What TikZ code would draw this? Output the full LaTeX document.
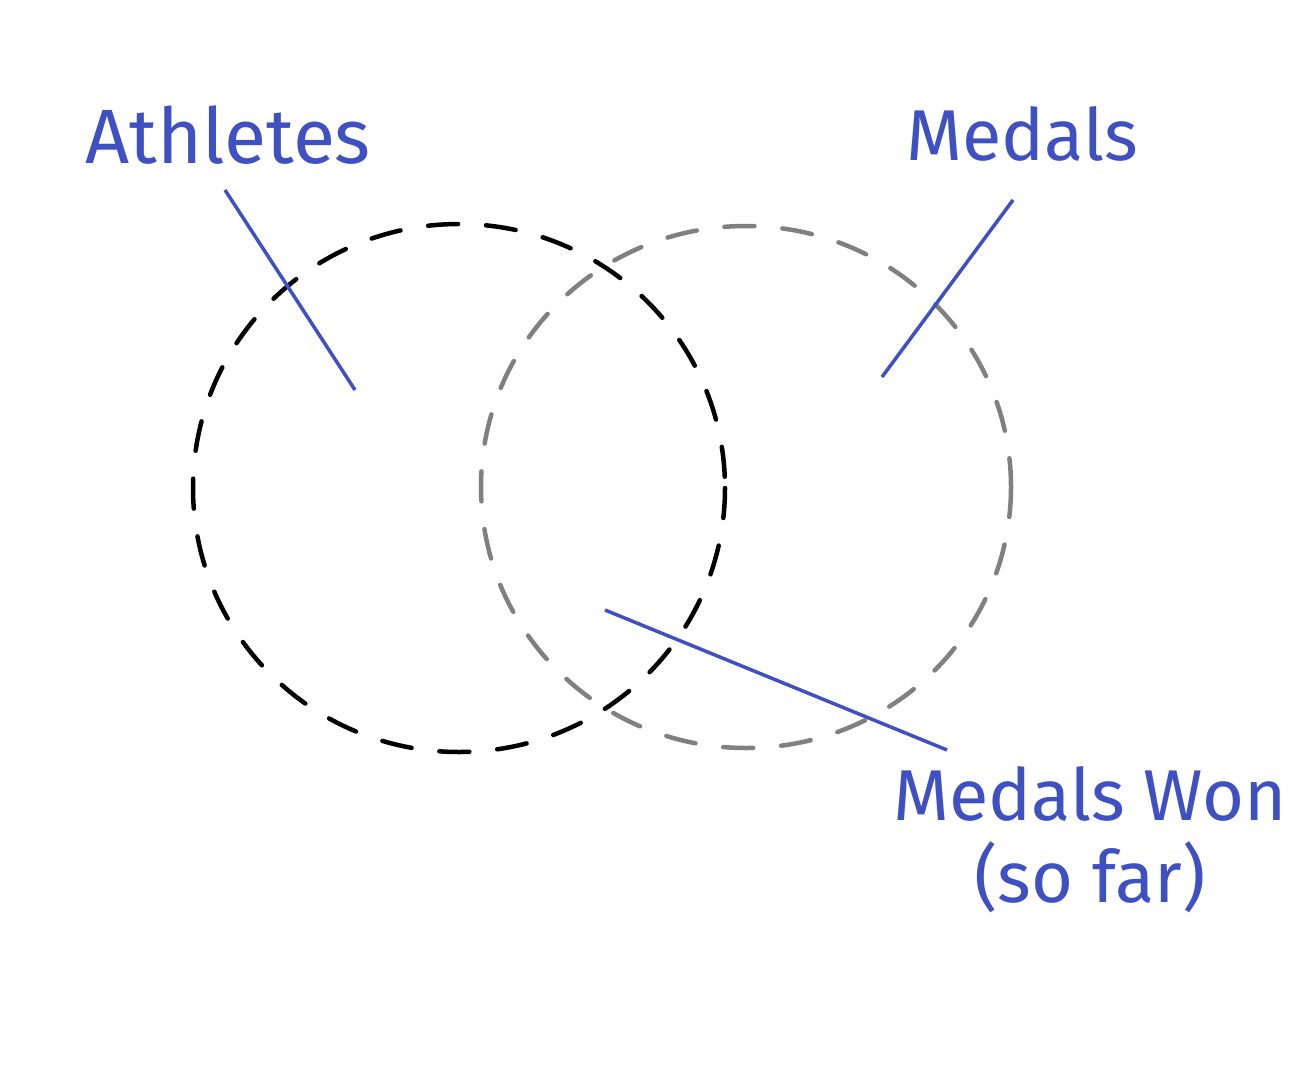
\documentclass[tikz,border=0pt]{standalone}
\usepackage{fontspec}
\setmainfont{Fira Sans}
\definecolor{inkblue}{HTML}{3F51C2}
\definecolor{ringgray}{HTML}{808080}
\begin{document}
\begin{tikzpicture}[x=1pt,y=-1pt,
  ring/.style={line width=4.5pt,dash pattern=on 30pt off 28pt,line cap=round},
  leader/.style={inkblue,line width=3.5pt},
  lbl/.style={text=inkblue,font=\fontsize{72}{80}\selectfont,inner sep=0pt,anchor=base}]
\useasboundingbox (0,0) rectangle (1304,1076);
\fill[white] (0,0) rectangle (1304,1076);
% circles
\draw[ring,black] (459,488) ellipse [x radius=266,y radius=264];
\draw[ring,ringgray] (746,487) ellipse [x radius=265,y radius=261];
% labels
\node[lbl,font=\fontsize{77}{80}\selectfont] (ath) at (228,163) {Athletes};
\node[lbl] (med) at (1022,160) {Medals};
\node[lbl] (won) at (1090,820) {Medals Won};
\node[lbl] (far) at (1090,902) {(so far)};
% leader ends
\coordinate (a1) at (225,190);
\coordinate (a2) at (355,390);
\coordinate (m1) at (1013,200);
\coordinate (m2) at (882,377);
\coordinate (w1) at (947,750);
\coordinate (w2) at (605,610);
\draw[leader] (a1) -- (a2);
\draw[leader] (m1) -- (m2);
\draw[leader] (w1) -- (w2);
\end{tikzpicture}
\end{document}
